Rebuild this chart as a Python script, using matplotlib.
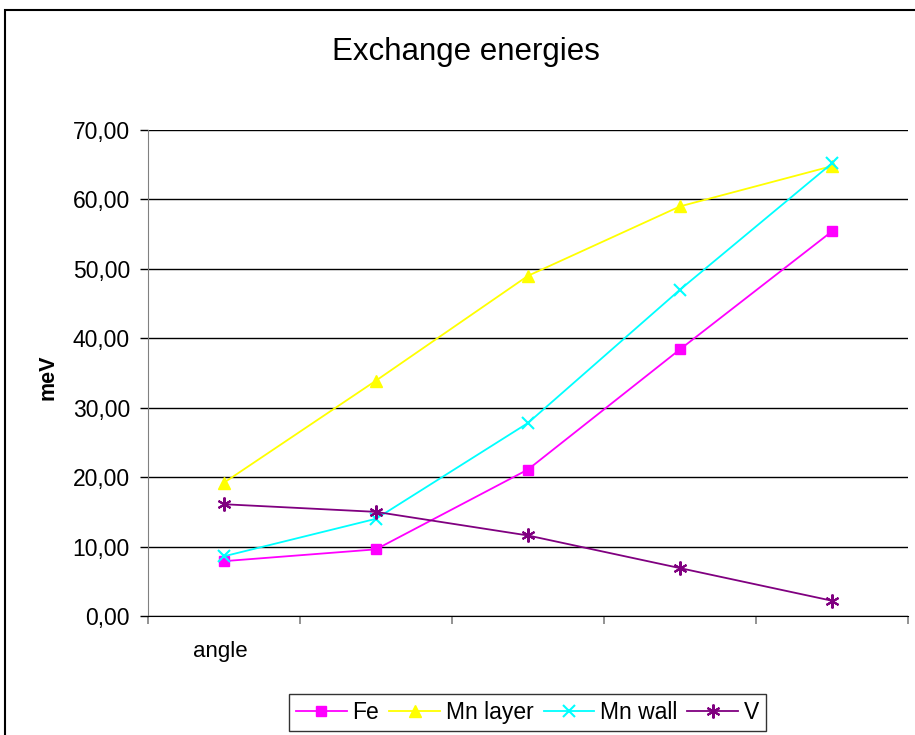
import matplotlib
matplotlib.use("Agg")
import matplotlib.pyplot as plt
from matplotlib.patches import Rectangle
from matplotlib.ticker import FuncFormatter, MultipleLocator

plt.rcParams['font.family'] = ['Liberation Sans', 'DejaVu Sans']

# Values (five angle steps, no category labels)
positions = [0, 1, 2, 3, 4]
fe = [7.9, 9.6, 21.1, 38.4, 55.4]
mn_layer = [19.2, 33.9, 49.0, 59.0, 64.8]
mn_wall = [8.6, 14.0, 27.8, 47.0, 65.2]
v = [16.1, 15.0, 11.6, 6.9, 2.2]

series = [
    ('Fe', fe, '#ff00ff', 's', 7),
    ('Mn layer', mn_layer, '#ffff00', '^', 9),
    ('Mn wall', mn_wall, '#00ffff', 'x', 9),
    ('V', v, '#800080', (6, 2, 0), 10),
]

fig = plt.figure(figsize=(9.15, 7.35), dpi=100)
ax = fig.add_axes([0.1617, 0.1619, 0.8306, 0.6612])

for name, vals, color, marker, size in series:
    mew = 1.5 if marker in ('x', (6, 2, 0)) else 1
    ax.plot(positions, vals, color=color, marker=marker, markersize=size,
            markeredgewidth=mew, linewidth=1.3, label=name)

ax.set_xlim(-0.5, 4.5)
ax.set_ylim(0, 70)
ax.yaxis.set_major_locator(MultipleLocator(10))
ax.yaxis.set_major_formatter(FuncFormatter(lambda y, _: f'{y:.2f}'.replace('.', ',')))
ax.set_xticks([-0.5, 0.5, 1.5, 2.5, 3.5, 4.5])
ax.set_xticklabels([])
ax.tick_params(axis='x', length=6, width=1.2, direction='out', color='#808080')
ax.tick_params(axis='y', length=6, width=1, direction='out', labelsize=16.5, pad=7)
ax.grid(axis='y', color='black', linewidth=1)
ax.set_axisbelow(True)
for side in ('top', 'right'):
    ax.spines[side].set_visible(False)
ax.spines['left'].set_color('#808080')
ax.spines['bottom'].set_color('black')

fig.text(48 / 915, 0.487, 'meV', rotation=90, ha='center', va='center',
         fontsize=15.5, fontweight='bold')
fig.text(466 / 915, 0.929, 'Exchange energies', ha='center', va='center', fontsize=22.5)
fig.text(193 / 915, 1 - 652 / 735, 'angle', ha='left', va='center', fontsize=16)

leg = fig.legend(loc='center', bbox_to_anchor=(0.5765, 0.0306), ncol=4, fontsize=16.5,
                 frameon=True, fancybox=False, borderpad=0.3, handlelength=2.2,
                 handletextpad=0.25, columnspacing=0.45, borderaxespad=0)
leg.get_frame().set_edgecolor('black')
leg.get_frame().set_linewidth(1)

# outer chart border, cropped at the right and bottom like the reference
fig.patches.append(Rectangle((5 / 915, -0.1), 1.2, 1 - 10 / 735 + 0.1,
                             transform=fig.transFigure, fill=False,
                             edgecolor='black', linewidth=1.5))

fig.savefig('out.png', dpi=100)
